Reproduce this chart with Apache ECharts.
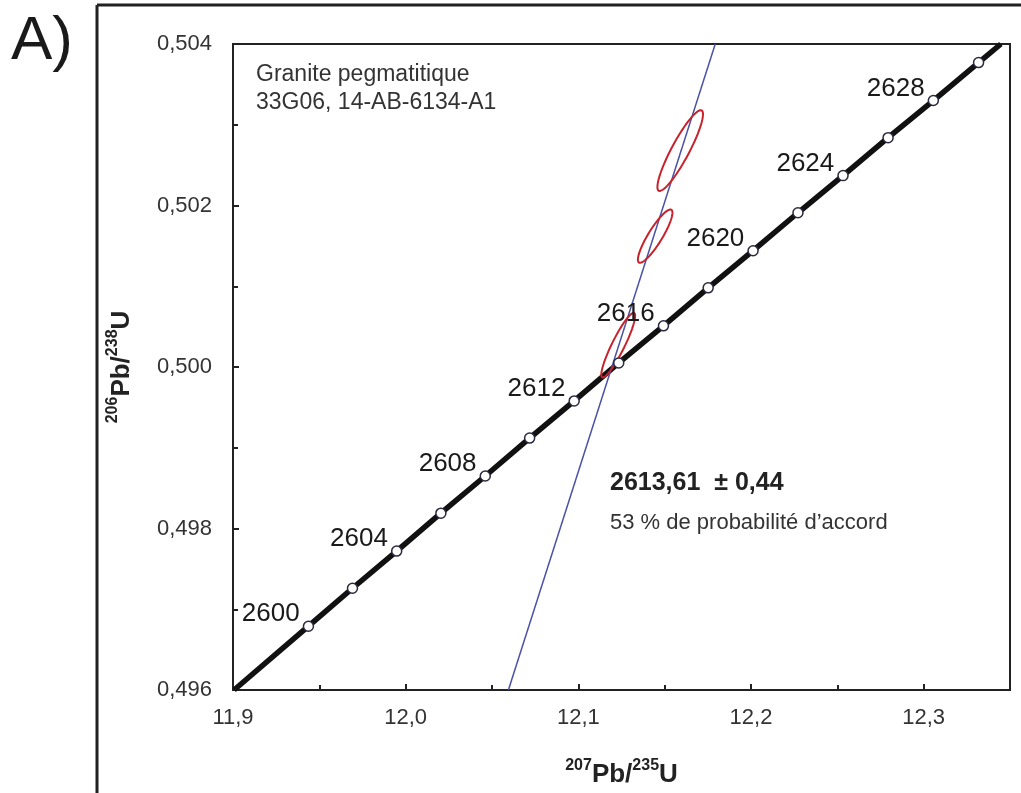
<!DOCTYPE html>
<html>
<head>
<meta charset="utf-8">
<script src="https://cdn.jsdelivr.net/npm/echarts@6/dist/echarts.min.js"></script>
<style>
  html, body { margin: 0; padding: 0; background: #fff; }
  #chart { width: 1021px; height: 793px; }
</style>
</head>
<body>
<div id="chart"></div>
<script>
// concordia points (Ma)
const ages = [2600, 2602, 2604, 2606, 2608, 2610, 2612, 2614, 2616, 2618, 2620, 2622, 2624, 2626, 2628, 2630]
const concX = [11.9437, 11.9692, 11.9948, 12.0204, 12.0461, 12.0718, 12.0976, 12.1234, 12.1493, 12.1752, 12.2012, 12.2272, 12.2533, 12.2794, 12.3056, 12.3318]
const concY = [0.49679, 0.49726, 0.49772, 0.49819, 0.49865, 0.49912, 0.49958, 0.50005, 0.50051, 0.50098, 0.50144, 0.50191, 0.50237, 0.50284, 0.50330, 0.50377]
const concStart = [11.9006, 0.4960]
const concEnd = [12.3447, 0.5040]
const labelAges = [2600, 2604, 2608, 2612, 2616, 2620, 2624, 2628]

// discordia line ends
const discordX = [12.0595, 12.1793]
const discordY = [0.4960, 0.5040]

// error ellipses: centre, half widths, correlation
const ellCX = [12.1231, 12.1445, 12.1590]
const ellCY = [0.50027, 0.50162, 0.50268]
const ellSX = [0.0098, 0.0100, 0.0132]
const ellSY = [0.00040, 0.00033, 0.00050]
const ellRho = [0.91, 0.88, 0.90]

const xTicks = { min: 11.9, max: 12.35, interval: 0.1 }
const yTicks = { min: 0.496, max: 0.504, interval: 0.002 }

const font = 'Liberation Sans, Arial, sans-serif'

const concLine = [concStart].concat(concX.map((x, i) => [x, concY[i]])).concat([concEnd])
const circles = concX.map((x, i) => ({
  value: [x, concY[i]],
  label: { show: labelAges.includes(ages[i]) }
}))
const ellData = ellCX.map((cx, i) => [cx, ellCY[i], ellSX[i], ellSY[i], ellRho[i]])

const nameRich = {
  b: { fontFamily: font, fontWeight: 'bold', fontSize: 26, color: '#222', lineHeight: 30, verticalAlign: 'bottom' },
  sup: { fontFamily: font, fontWeight: 'bold', fontSize: 16, color: '#222', lineHeight: 17, verticalAlign: 'top' }
}

const chart = echarts.init(document.getElementById('chart'))

const option = {
  animation: false,
  grid: {
    left: 233, right: 11, top: 44, bottom: 102,
    show: true, borderColor: '#222', borderWidth: 2
  },
  xAxis: {
    type: 'value',
    min: xTicks.min, max: xTicks.max, interval: xTicks.interval,
    name: '{sup|207}{b|Pb/}{sup|235}{b|U}',
    nameLocation: 'middle',
    nameGap: 68,
    nameTextStyle: { rich: nameRich },
    axisLine: { lineStyle: { color: '#222', width: 2 } },
    axisTick: { inside: true, length: 6, lineStyle: { color: '#222', width: 2 } },
    minorTick: { show: true, splitNumber: 2, length: 5, lineStyle: { color: '#222', width: 2 } },
    splitLine: { show: false },
    axisLabel: {
      showMaxLabel: false,
      margin: 17,
      fontFamily: font, fontSize: 22, color: '#333',
      formatter: v => v.toFixed(1).replace('.', ',')
    }
  },
  yAxis: {
    type: 'value',
    min: yTicks.min, max: yTicks.max, interval: yTicks.interval,
    name: '{sup|206}{b|Pb/}{sup|238}{b|U}',
    nameLocation: 'middle',
    nameRotate: 90,
    nameGap: 98,
    nameTextStyle: { rich: nameRich },
    axisLine: { lineStyle: { color: '#222', width: 2 } },
    axisTick: { inside: true, length: 6, lineStyle: { color: '#222', width: 2 } },
    minorTick: { show: true, splitNumber: 2, length: 5, lineStyle: { color: '#222', width: 2 } },
    splitLine: { show: false },
    axisLabel: {
      margin: 21,
      fontFamily: font, fontSize: 22, color: '#333',
      formatter: v => v.toFixed(3).replace('.', ',')
    }
  },
  series: [
    {
      // concordia
      type: 'line',
      data: concLine,
      symbol: 'none',
      lineStyle: { color: '#111', width: 5.5 },
      z: 2
    },
    {
      // discordia
      type: 'line',
      data: discordX.map((x, i) => [x, discordY[i]]),
      symbol: 'none',
      lineStyle: { color: '#4a52a6', width: 1.5 },
      z: 3
    },
    {
      type: 'custom',
      data: ellData,
      encode: { x: 0, y: 1 },
      z: 4,
      renderItem: (params, api) => {
        const cx = api.value(0), cy = api.value(1)
        const sx = api.value(2), sy = api.value(3), r = api.value(4)
        const k = Math.sqrt(1 - r * r)
        const pts = []
        for (let j = 0; j < 72; j++) {
          const t = j / 72 * Math.PI * 2
          pts.push(api.coord([cx + sx * Math.cos(t), cy + sy * (r * Math.cos(t) + k * Math.sin(t))]))
        }
        return {
          type: 'polygon',
          shape: { points: pts },
          style: { fill: 'none', stroke: '#c8232c', lineWidth: 2 }
        }
      }
    },
    {
      // age markers
      type: 'scatter',
      data: circles,
      symbol: 'circle',
      symbolSize: 10,
      itemStyle: { color: '#ffffff', borderColor: '#2a2a40', borderWidth: 1.5, opacity: 1 },
      label: {
        position: 'left',
        distance: 3,
        offset: [0, -12],
        fontFamily: font, fontSize: 26, color: '#1a1a1a',
        formatter: p => String(ages[p.dataIndex])
      },
      z: 5
    }
  ],
  graphic: [
    { type: 'line', shape: { x1: 97, y1: 5, x2: 97, y2: 793 }, style: { stroke: '#222', lineWidth: 3 } },
    { type: 'line', shape: { x1: 97, y1: 5, x2: 1021, y2: 5 }, style: { stroke: '#222', lineWidth: 3 } },
    { type: 'text', left: 11, top: 11, style: { text: 'A)', fontFamily: font, fontSize: 62, fill: '#1a1a1a' } },
    {
      type: 'text', left: 256, top: 61,
      style: { text: 'Granite pegmatitique\n33G06, 14-AB-6134-A1', fontFamily: font, fontSize: 23, lineHeight: 28, fill: '#333' }
    },
    {
      type: 'text', left: 610, top: 471,
      style: { text: '2613,61  ± 0,44', fontFamily: font, fontSize: 25, fontWeight: 'bold', fill: '#222' }
    },
    {
      type: 'text', left: 610, top: 512,
      style: { text: '53 % de probabilité d’accord', fontFamily: font, fontSize: 22, fill: '#333' }
    }
  ]
}

chart.setOption(option)
</script>
</body>
</html>
